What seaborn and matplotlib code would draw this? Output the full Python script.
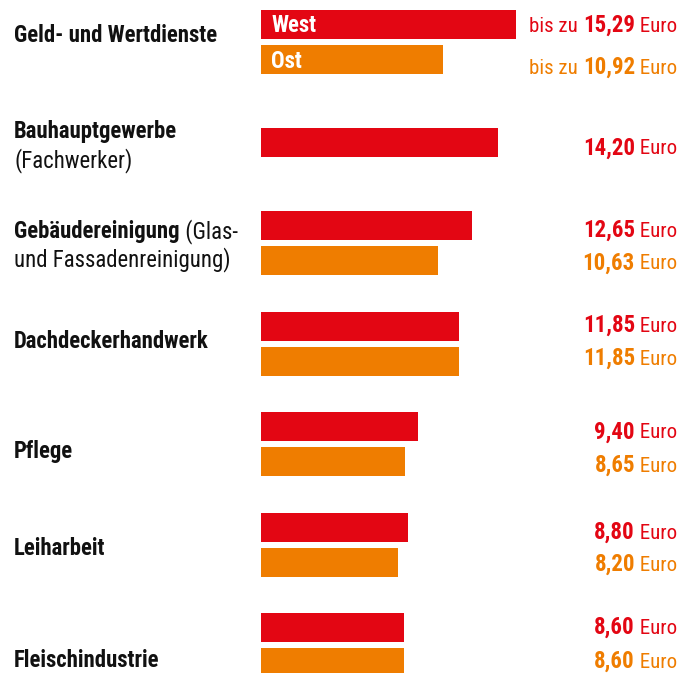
import matplotlib
matplotlib.use("Agg")
import matplotlib.pyplot as plt
import seaborn as sns
import pandas as pd
from matplotlib import font_manager as fm

# ---- data ----
categories = ["Geld- und Wertdienste", "Bauhauptgewerbe", "Gebäudereinigung",
              "Dachdeckerhandwerk", "Pflege", "Leiharbeit", "Fleischindustrie"]
category_extra = ["", "(Fachwerker)", " (Glas-", "", "", "", ""]
category_line2 = [None, "(Fachwerker)", "und Fassadenreinigung)", None, None, None, None]
west_values = [15.29, 14.20, 12.65, 11.85, 9.40, 8.80, 8.60]
ost_values = [10.92, None, 10.63, 11.85, 8.65, 8.20, 8.60]
west_labels = ["15,29", "14,20", "12,65", "11,85", "9,40", "8,80", "8,60"]
ost_labels = ["10,92", None, "10,63", "11,85", "8,65", "8,20", "8,60"]
regions = ["West", "Ost"]

# ---- layout (pixel space) ----
W, H = 678, 673
row_centers = [42, 142.5, 243, 344, 444, 545, 645]
dodge = 17.5
label_base = [41.7, 138.3, 238.3, 347.7, 458.3, 555, 667]
label2_base = [None, 167.3, 266.7, None, None, None, None]
west_base = [31.7, 154.3, 236.7, 331.7, 438.3, 539, 634]
ost_base = [74, None, 269.3, 365, 472, 571, 668]

RED = "#E30613"
ORANGE = "#EF7D00"
INK = "#111111"

sns.set_theme(style="white")
installed = {f.name for f in fm.fontManager.ttflist}
fam = [f for f in ["Roboto Condensed", "Liberation Sans Narrow", "Roboto", "DejaVu Sans"] if f in installed]
plt.rcParams["font.family"] = fam

rows = []
for i, c in enumerate(categories):
    if ost_values[i] is None:
        rows.append(dict(cat=c, region="West", value=west_values[i], pos=row_centers[i]))
    else:
        rows.append(dict(cat=c, region="West", value=west_values[i], pos=row_centers[i] - dodge))
        rows.append(dict(cat=c, region="Ost", value=ost_values[i], pos=row_centers[i] + dodge))
df = pd.DataFrame(rows)

fig = plt.figure(figsize=(W / 100, H / 100), dpi=100)
ax = fig.add_axes([0, 0, 1, 1])
scale = 16.67
x0 = 261
sns.barplot(data=df, x="value", y="pos", hue="region", orient="h", native_scale=True,
            dodge=False, palette={"West": RED, "Ost": ORANGE}, width=29 / 35,
            legend=False, ax=ax, linewidth=0, saturation=1)
ax.set_xlim(-x0 / scale, (W - x0) / scale)
ax.set_ylim(H, 0)
ax.axis("off")

LBL = 16.4

# in-bar legend labels
ax.text(10.5 / scale, 31.7, regions[0], color="white", fontweight="bold",
        fontsize=LBL, va="baseline", ha="left")
ax.text(10.5 / scale, 68.3, regions[1], color="white", fontweight="bold",
        fontsize=LBL, va="baseline", ha="left")

# category labels (left)
lx = (14 - x0) / scale
for i, c in enumerate(categories):
    t = ax.text(lx, label_base[i], c, fontweight="bold", fontsize=LBL,
                va="baseline", ha="left", color=INK)
    if category_extra[i] and category_line2[i] != category_extra[i]:
        ax.annotate(category_extra[i], xy=(1, label_base[i]), xycoords=(t, "data"),
                    va="baseline", ha="left", fontsize=LBL, color=INK)
    if category_line2[i]:
        ax.text(lx, label2_base[i], category_line2[i], fontsize=LBL,
                va="baseline", ha="left", color=INK)

# value labels (right)
rx = (W - 1 - x0) / scale
def value_label(y, num, color, prefix=""):
    e = ax.text(rx, y, " Euro", fontsize=15, color=color, va="baseline", ha="right")
    n = ax.annotate(num, xy=(0, y), xycoords=(e, "data"), fontsize=16.5, fontweight="bold",
                    color=color, va="baseline", ha="right")
    if prefix:
        ax.annotate(prefix, xy=(0, y), xycoords=(n, "data"), fontsize=15, color=color,
                    va="baseline", ha="right")

for i in range(len(categories)):
    pre = "bis zu " if i == 0 else ""
    value_label(west_base[i], west_labels[i], RED, pre)
    if ost_labels[i] is not None:
        value_label(ost_base[i], ost_labels[i], ORANGE, pre)

fig.savefig("out.png", dpi=100)
